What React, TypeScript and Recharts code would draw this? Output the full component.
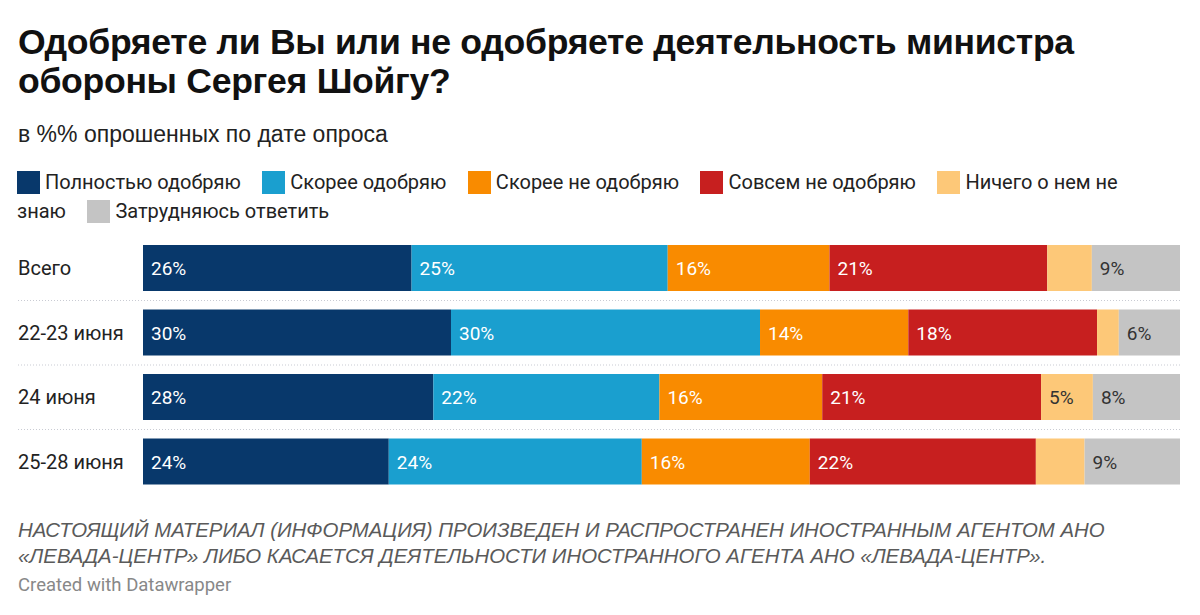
import React from 'react';
import { BarChart, Bar, XAxis, YAxis, LabelList } from 'recharts';

const categories = ['Всего', '22-23 июня', '24 июня', '25-28 июня'];
const seriesNames = [
  'Полностью одобряю',
  'Скорее одобряю',
  'Скорее не одобряю',
  'Совсем не одобряю',
  'Ничего о нем не знаю',
  'Затрудняюсь ответить',
];
const fullyApprove = [25.9, 29.7, 28.0, 23.7];
const ratherApprove = [24.7, 29.8, 21.8, 24.4];
const ratherDisapprove = [15.6, 14.3, 15.7, 16.2];
const fullyDisapprove = [21.0, 18.2, 21.1, 21.8];
const knowNothing = [4.3, 2.1, 5.0, 4.7];
const hardToSay = [8.5, 5.9, 8.4, 9.2];

const seriesValues = [fullyApprove, ratherApprove, ratherDisapprove, fullyDisapprove, knowNothing, hardToSay];
const colors = ['#08386b', '#1a9fcf', '#f98b00', '#c71f1f', '#fdc878', '#c4c4c4'];
const labelColors = ['#ffffff', '#ffffff', '#ffffff', '#ffffff', '#333333', '#333333'];
const keys = ['s0', 's1', 's2', 's3', 's4', 's5'];

const data = categories.map((c, i) => {
  const row: any = { name: c };
  keys.forEach((k, j) => {
    row[k] = seriesValues[j][i];
  });
  return row;
});

const FONT = 'Roboto, "Noto Sans", sans-serif';

const YTick = (props: any) => {
  const { y, payload, index } = props;
  return (
    <g>
      <text x={18} y={y} dy={7} fill="#222" fontSize={20} fontFamily={FONT} textAnchor="start">
        {payload.value}
      </text>
      {index < categories.length - 1 && (
        <line x1={18} x2={1180} y1={y + 32.25} y2={y + 32.25} stroke="#c9cbd3" strokeWidth={1} strokeDasharray="1 2" />
      )}
    </g>
  );
};

const makeLabel = (color: string) => (props: any) => {
  const { x, y, height, value } = props;
  if (value < 5) return null;
  return (
    <text x={x + 8} y={y + height / 2} dy={7} fill={color} fontSize={19} fontFamily={FONT}>
      {Math.round(value)}%
    </text>
  );
};

export default function App() {
  return (
    <div style={{ position: 'absolute', left: 0, top: 0, width: 1200, height: 615, background: '#fff', overflow: 'hidden' }}>
      <div
        style={{
          position: 'absolute',
          left: 18,
          top: 23,
          width: 1170,
          fontFamily: '"Liberation Sans", Arial, sans-serif',
          fontWeight: 700,
          fontSize: 35.6,
          lineHeight: '39px',
          color: '#111',
          letterSpacing: -0.3,
          whiteSpace: 'nowrap',
        }}
      >
        Одобряете ли Вы или не одобряете деятельность министра
        <br />
        обороны Сергея Шойгу?
      </div>
      <div
        style={{
          position: 'absolute',
          left: 18,
          top: 121,
          fontFamily: '"Liberation Sans", Arial, sans-serif',
          fontSize: 23,
          color: '#222',
        }}
      >
        в %% опрошенных по дате опроса
      </div>
      <div
        style={{
          position: 'absolute',
          left: 17,
          top: 168,
          width: 1110,
          fontFamily: FONT,
          fontSize: 20,
          lineHeight: '29px',
          color: '#222',
        }}
      >
        {seriesNames.map((n, i) => (
          <React.Fragment key={n}>
            <span
              style={{
                display: 'inline-block',
                width: 23,
                height: 23,
                background: colors[i],
                verticalAlign: '-5px',
                marginRight: 5,
              }}
            />
            <span style={{ marginRight: 16.5 }}>{n}</span>{' '}
          </React.Fragment>
        ))}
      </div>
      <div style={{ position: 'absolute', left: 0, top: 236 }}>
        <BarChart
          width={1200}
          height={258}
          data={data}
          layout="vertical"
          margin={{ top: 0, right: 20, bottom: 0, left: 18 }}
          barCategoryGap={18}
        >
          <XAxis type="number" domain={[0, 100]} hide />
          <YAxis type="category" dataKey="name" width={125} axisLine={false} tickLine={false} tick={<YTick />} interval={0} />
          {keys.map((k, i) => (
            <Bar key={k} dataKey={k} stackId="a" fill={colors[i]} isAnimationActive={false} barSize={46}>
              <LabelList dataKey={k} content={makeLabel(labelColors[i])} />
            </Bar>
          ))}
        </BarChart>
      </div>
      <div
        style={{
          position: 'absolute',
          left: 18,
          top: 517,
          fontFamily: '"Liberation Sans", Arial, sans-serif',
          fontStyle: 'italic',
          fontSize: 20.4,
          lineHeight: '26px',
          color: '#5a5a5a',
          whiteSpace: 'nowrap',
        }}
      >
        НАСТОЯЩИЙ МАТЕРИАЛ (ИНФОРМАЦИЯ) ПРОИЗВЕДЕН И РАСПРОСТРАНЕН ИНОСТРАННЫМ АГЕНТОМ АНО
        <br />
        «ЛЕВАДА-ЦЕНТР» ЛИБО КАСАЕТСЯ ДЕЯТЕЛЬНОСТИ ИНОСТРАННОГО АГЕНТА АНО «ЛЕВАДА-ЦЕНТР».
      </div>
      <div
        style={{
          position: 'absolute',
          left: 18,
          top: 574,
          fontFamily: FONT,
          fontSize: 18.5,
          color: '#888',
        }}
      >
        Created with Datawrapper
      </div>
    </div>
  );
}
